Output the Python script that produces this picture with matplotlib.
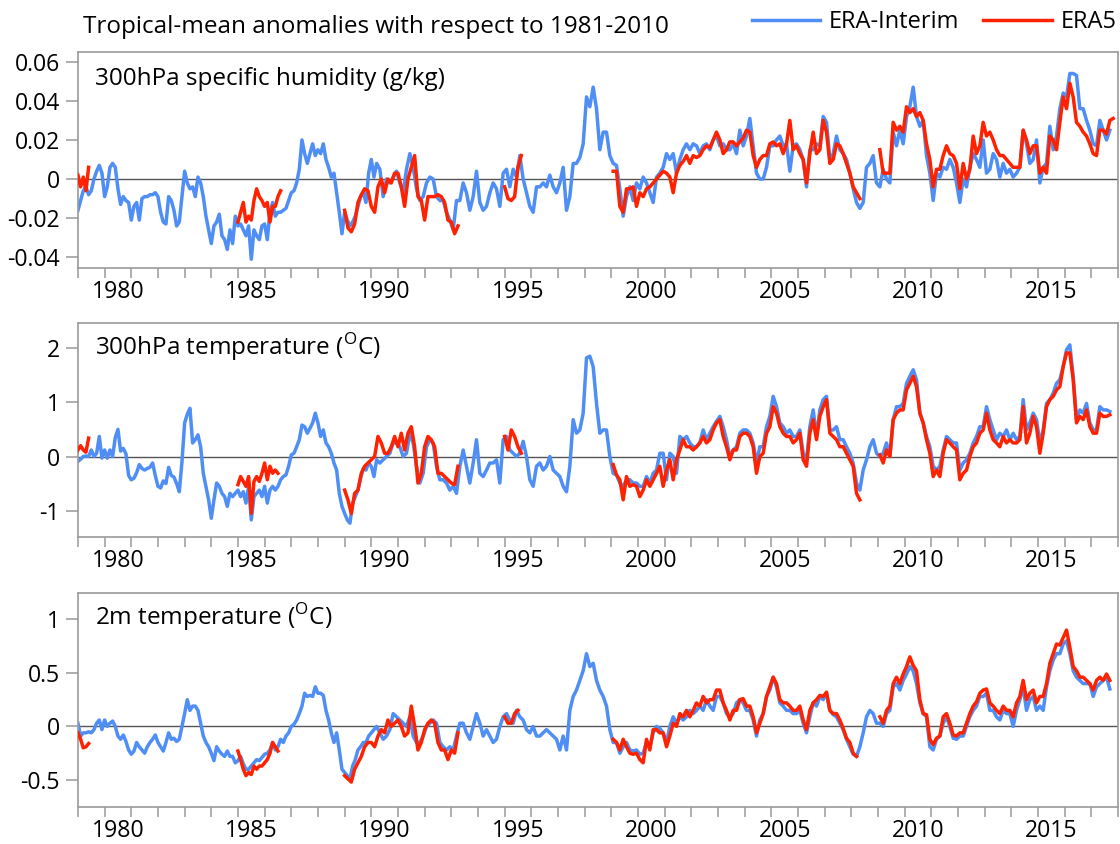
import matplotlib
matplotlib.use("Agg")
import matplotlib.pyplot as plt
from matplotlib.lines import Line2D
import numpy as np

plt.rcParams['font.family'] = ['Open Sans', 'DejaVu Sans']
plt.rcParams['mathtext.fontset'] = 'custom'
plt.rcParams['mathtext.rm'] = 'Open Sans'

erai_starts = [1979.0, 1990.32]
erai_steps = [0.1, 0.125]
era5_starts = [1979.0, 1985.0, 1989.0, 1995.0, 1999.07, 2009.07]
era5_steps = [0.1, 0.1, 0.125, 0.125, 0.125, 0.125]

# ---- 300hPa specific humidity (g/kg) ----
q_erai_a = [
    -0.016, -0.011, -0.006, -0.004, -0.008, -0.006, 0.000, 0.004, 0.007, 0.003,
    -0.009, -0.004, 0.006, 0.008, 0.006, -0.005, -0.013, -0.009, -0.011, -0.012,
    -0.021, -0.014, -0.012, -0.021, -0.010, -0.009, -0.009, -0.008, -0.008, -0.007,
    -0.009, -0.017, -0.022, -0.023, -0.009, -0.011, -0.016, -0.024, -0.022, -0.009,
    0.004, -0.002, -0.005, -0.004, -0.009, 0.001, -0.002, -0.009, -0.019, -0.026,
    -0.033, -0.024, -0.022, -0.018, -0.029, -0.031, -0.036, -0.026, -0.033, -0.019,
    -0.024, -0.023, -0.026, -0.029, -0.024, -0.041, -0.026, -0.029, -0.031, -0.024,
    -0.023, -0.031, -0.017, -0.012, -0.019, -0.017, -0.017, -0.016, -0.015, -0.011,
    -0.007, -0.006, -0.002, 0.005, 0.020, 0.013, 0.008, 0.013, 0.018, 0.012,
    0.015, 0.013, 0.018, 0.010, 0.006, 0.001, 0.003, -0.007, -0.017, -0.028,
    -0.017, -0.021, -0.024, -0.022, -0.019, -0.014, -0.009, -0.007, -0.012, 0.003,
    0.010, 0.001, 0.008]
q_erai_b = [
    0.005, -0.009, -0.000, -0.002, 0.001, 0.004, -0.002, -0.007, 0.005, 0.013,
    0.006, -0.005, -0.011, -0.009, -0.002, 0.001, -0.000, -0.009, -0.011, -0.011,
    -0.017, -0.021, -0.026, -0.011, -0.011, -0.002, -0.007, -0.016, -0.009, 0.004,
    -0.012, -0.016, -0.014, -0.007, -0.002, -0.005, -0.014, 0.003, 0.005, -0.004,
    0.005, 0.001, 0.012, -0.000, -0.007, -0.014, -0.017, -0.004, -0.004, -0.002,
    -0.004, 0.002, -0.004, -0.007, -0.002, 0.006, -0.016, -0.009, 0.008, 0.008,
    0.011, 0.018, 0.042, 0.037, 0.047, 0.036, 0.015, 0.024, 0.024, 0.012,
    0.008, 0.007, -0.005, -0.019, -0.009, -0.004, -0.011, -0.002, -0.005, 0.001,
    -0.002, -0.007, -0.012, 0.001, 0.003, 0.006, 0.013, 0.010, 0.013, 0.003,
    0.010, 0.015, 0.018, 0.015, 0.018, 0.017, 0.013, 0.017, 0.018, 0.015,
    0.020, 0.022, 0.017, 0.018, 0.015, 0.015, 0.018, 0.013, 0.025, 0.017,
    0.022, 0.031, 0.017, 0.003, -0.000, -0.000, 0.006, 0.017, 0.017, 0.020,
    0.022, 0.017, 0.018, 0.004, 0.017, 0.018, 0.015, 0.010, -0.004, 0.015,
    0.015, 0.018, 0.017, 0.032, 0.029, 0.010, 0.013, 0.022, 0.015, 0.013,
    0.010, 0.003, -0.005, -0.012, -0.015, -0.012, 0.006, 0.008, 0.012, -0.002,
    -0.004, 0.005, -0.000, -0.002, 0.024, 0.017, 0.025, 0.018, 0.032, 0.037,
    0.047, 0.032, 0.027, 0.030, 0.012, 0.003, -0.011, 0.003, 0.001, 0.006,
    0.005, 0.010, 0.006, -0.002, -0.012, -0.000, -0.004, 0.006, 0.013, 0.010,
    0.006, 0.020, 0.003, 0.005, 0.013, 0.010, 0.001, 0.008, 0.003, 0.005,
    0.001, 0.003, 0.006, 0.025, 0.018, 0.008, 0.010, 0.020, -0.002, 0.006,
    0.008, 0.027, 0.015, 0.022, 0.036, 0.044, 0.042, 0.054, 0.054, 0.053,
    0.036, 0.036, 0.030, 0.025, 0.018, 0.017, 0.030, 0.025, 0.020, 0.025]
q_era5_1 = [0.002, -0.004, 0.001, -0.006, 0.006]
q_era5_2 = [-0.022, -0.017, -0.012, -0.022, -0.019, -0.021, -0.011, -0.005, -0.009,
            -0.011, -0.014, -0.012, -0.022, -0.014, -0.014, -0.009, -0.006]
q_era5_3 = [-0.016, -0.025, -0.027, -0.023, -0.012, -0.008, -0.005, -0.006, -0.014,
            -0.017, -0.004, -0.000, -0.007, -0.000, -0.002, 0.003, 0.003, -0.004,
            -0.014, -0.000, 0.006, 0.012, -0.009, -0.011, -0.021, -0.009, -0.009,
            -0.009, -0.008, -0.009, -0.012, -0.021, -0.022, -0.028, -0.024]
q_era5_4 = [-0.004, -0.010, -0.011, -0.009, 0.006, 0.012]
q_era5_5 = [
    0.004, 0.004, -0.014, -0.017, -0.005, -0.005, -0.004, -0.014, -0.007, -0.009,
    -0.005, -0.004, -0.002, -0.000, 0.002, 0.004, 0.003, 0.001, -0.007, 0.003,
    0.007, 0.009, 0.012, 0.008, 0.012, 0.011, 0.012, 0.015, 0.017, 0.016,
    0.020, 0.024, 0.020, 0.013, 0.015, 0.019, 0.019, 0.017, 0.019, 0.021,
    0.025, 0.024, 0.012, 0.006, 0.010, 0.012, 0.012, 0.018, 0.019, 0.017,
    0.018, 0.013, 0.018, 0.030, 0.015, 0.017, 0.013, 0.010, -0.002, 0.013,
    0.024, 0.013, 0.015, 0.030, 0.024, 0.008, 0.010, 0.018, 0.017, 0.013,
    0.008, 0.003, -0.004, -0.007, -0.010]
q_era5_6 = [
    0.015, 0.003, 0.003, 0.003, 0.029, 0.025, 0.027, 0.024, 0.037, 0.034,
    0.036, 0.032, 0.034, 0.030, 0.018, 0.010, -0.004, 0.005, 0.005, 0.012,
    0.017, 0.013, 0.012, 0.008, -0.005, 0.008, -0.000, 0.005, 0.022, 0.013,
    0.017, 0.029, 0.022, 0.024, 0.020, 0.015, 0.012, 0.012, 0.010, 0.008,
    0.006, 0.006, 0.006, 0.025, 0.020, 0.013, 0.017, 0.017, 0.003, 0.006,
    0.003, 0.022, 0.020, 0.015, 0.029, 0.042, 0.036, 0.049, 0.042, 0.029,
    0.027, 0.024, 0.022, 0.018, 0.013, 0.012, 0.025, 0.025, 0.023, 0.030, 0.031]

# ---- 300hPa temperature (C) ----
t3_erai_a = [
    -0.09, -0.05, 0.0, 0.01, 0.0, 0.12, 0.0, 0.06, 0.37, -0.03,
    0.12, -0.03, 0.12, 0.0, 0.35, 0.50, 0.10, 0.15, 0.05, -0.35,
    -0.43, -0.40, -0.30, -0.15, -0.22, -0.25, -0.22, -0.20, -0.12, -0.35,
    -0.55, -0.58, -0.45, -0.50, -0.20, -0.35, -0.38, -0.50, -0.65, -0.10,
    0.62, 0.78, 0.89, 0.25, 0.31, 0.40, 0.18, -0.31, -0.55, -0.80,
    -1.14, -0.80, -0.49, -0.55, -0.68, -0.74, -0.92, -0.68, -0.74, -0.68,
    -0.62, -0.74, -0.65, -0.86, -0.55, -1.17, -0.74, -0.68, -0.62, -0.74,
    -0.55, -0.86, -0.62, -0.55, -0.62, -0.55, -0.43, -0.37, -0.34, -0.18,
    0.03, 0.06, 0.18, 0.31, 0.58, 0.55, 0.43, 0.52, 0.62, 0.80,
    0.62, 0.37, 0.49, 0.25, 0.18, 0.06, -0.12, -0.25, -0.68, -0.92,
    -1.05, -1.17, -1.23, -0.86, -0.74, -0.62, -0.40, -0.22, -0.25, -0.12,
    -0.18, -0.37, -0.06]
t3_erai_b = [
    -0.12, -0.06, 0.0, 0.06, 0.25, 0.25, 0.18, 0.0, 0.06, 0.43,
    0.25, -0.18, -0.49, -0.31, 0.18, 0.31, 0.25, -0.18, -0.43, -0.43,
    -0.49, -0.62, -0.55, -0.68, -0.18, 0.12, -0.18, -0.49, -0.12, 0.31,
    -0.31, -0.37, -0.25, -0.12, -0.12, -0.06, -0.49, 0.31, 0.37, 0.12,
    0.06, 0.0, 0.06, 0.28, 0.0, -0.43, -0.55, -0.18, -0.12, -0.25,
    -0.18, 0.0, -0.25, -0.31, -0.37, -0.55, -0.65, -0.18, 0.68, 0.43,
    0.49, 0.80, 1.82, 1.85, 1.66, 0.98, 0.43, 0.49, 0.49, 0.0,
    -0.31, -0.34, -0.49, -0.55, -0.43, -0.43, -0.49, -0.49, -0.55, -0.55,
    -0.37, -0.49, -0.31, -0.25, 0.06, 0.06, -0.43, 0.06, 0.0, -0.31,
    0.37, 0.31, 0.37, 0.25, 0.18, 0.18, 0.25, 0.49, 0.31, 0.43,
    0.55, 0.65, 0.74, 0.55, 0.31, 0.0, 0.12, 0.18, 0.43, 0.49,
    0.49, 0.43, 0.25, -0.12, 0.18, 0.18, 0.55, 0.74, 1.11, 0.92,
    0.62, 0.55, 0.43, 0.49, 0.37, 0.37, 0.49, 0.06, -0.06, 0.55,
    0.86, 0.37, 0.86, 1.05, 1.11, 0.49, 0.49, 0.55, 0.31, 0.31,
    0.18, 0.06, -0.12, -0.49, -0.62, -0.25, -0.06, 0.18, 0.31, 0.06,
    0.0, 0.06, 0.25, 0.0, 0.68, 0.92, 0.92, 0.98, 1.35, 1.48,
    1.60, 1.42, 0.80, 0.62, 0.37, 0.18, -0.18, -0.25, -0.18, 0.12,
    0.37, 0.31, 0.25, 0.25, -0.25, -0.12, -0.06, 0.06, 0.25, 0.37,
    0.55, 0.55, 0.92, 0.68, 0.49, 0.31, 0.43, 0.37, 0.49, 0.31,
    0.43, 0.31, 0.37, 1.05, 0.49, 0.62, 0.80, 0.68, 0.25, 0.49,
    0.98, 1.05, 1.17, 1.35, 1.42, 1.66, 1.97, 2.06, 1.48, 0.68,
    0.86, 0.80, 0.98, 0.62, 0.49, 0.49, 0.92, 0.86, 0.86, 0.83]
t3_era5_1 = [0.12, 0.20, 0.12, 0.08, 0.34]
t3_era5_2 = [-0.52, -0.37, -0.46, -0.55, -0.37, -1.05, -0.46, -0.37, -0.46, -0.31,
             -0.12, -0.43, -0.18, -0.31, -0.25, -0.31]
t3_era5_3 = [-0.62, -0.80, -1.05, -0.68, -0.62, -0.31, -0.18, -0.12, -0.06, 0.0,
             0.37, 0.25, 0.06, 0.06, 0.18, 0.37, 0.18, 0.43, 0.12, 0.43, 0.55,
             0.18, -0.49, -0.31, 0.18, 0.37, 0.31, 0.18, -0.31, -0.31, -0.37,
             -0.43, -0.49, -0.52, -0.18]
t3_era5_4 = [0.37, 0.12, 0.49, 0.37, 0.18, 0.06]
t3_era5_5 = [
    -0.15, -0.34, -0.43, -0.80, -0.37, -0.55, -0.52, -0.55, -0.74, -0.62,
    -0.43, -0.55, -0.43, -0.31, -0.18, -0.55, -0.25, -0.06, -0.43, -0.06,
    0.12, 0.31, 0.18, 0.18, 0.12, 0.18, 0.25, 0.37, 0.25, 0.31,
    0.49, 0.62, 0.68, 0.37, 0.18, -0.06, 0.12, 0.12, 0.37, 0.43,
    0.43, 0.37, 0.18, -0.31, 0.0, 0.06, 0.43, 0.55, 0.92, 0.80,
    0.55, 0.43, 0.37, 0.37, 0.25, 0.31, 0.43, -0.06, -0.18, 0.43,
    0.68, 0.31, 0.74, 0.92, 1.05, 0.43, 0.37, 0.31, 0.18, 0.18,
    0.06, -0.06, -0.18, -0.68, -0.80]
t3_era5_6 = [
    0.03, -0.12, 0.12, 0.0, 0.68, 0.80, 0.86, 0.86, 1.23, 1.35,
    1.48, 1.29, 0.80, 0.62, 0.31, 0.06, -0.37, -0.25, -0.37, 0.06,
    0.31, 0.25, 0.18, 0.12, -0.43, -0.31, -0.25, 0.0, 0.18, 0.25,
    0.43, 0.49, 0.80, 0.49, 0.31, 0.25, 0.18, 0.37, 0.25, 0.31,
    0.25, 0.25, 0.31, 0.92, 0.25, 0.43, 0.74, 0.55, 0.06, 0.43,
    0.92, 1.05, 1.11, 1.23, 1.29, 1.66, 1.91, 1.91, 1.42, 0.62,
    0.74, 0.68, 0.86, 0.55, 0.43, 0.43, 0.80, 0.74, 0.74, 0.77]

# ---- 2m temperature (C) ----
t2_erai_a = [
    0.03, -0.09, -0.06, -0.06, -0.05, -0.06, -0.03, 0.03, 0.06, -0.03,
    0.06, 0.0, 0.03, 0.05, 0.0, -0.09, -0.12, -0.08, -0.14, -0.22,
    -0.26, -0.23, -0.15, -0.19, -0.22, -0.25, -0.19, -0.15, -0.12, -0.08,
    -0.15, -0.19, -0.23, -0.15, -0.06, -0.12, -0.11, -0.14, -0.12, 0.0,
    0.12, 0.25, 0.15, 0.19, 0.19, 0.15, 0.03, -0.09, -0.15, -0.19,
    -0.25, -0.32, -0.19, -0.23, -0.26, -0.28, -0.23, -0.28, -0.28, -0.34,
    -0.32, -0.28, -0.35, -0.40, -0.40, -0.37, -0.34, -0.31, -0.32, -0.29,
    -0.26, -0.25, -0.22, -0.15, -0.22, -0.19, -0.12, -0.15, -0.09, -0.06,
    0.0, 0.02, 0.06, 0.12, 0.19, 0.31, 0.28, 0.29, 0.28, 0.37,
    0.31, 0.31, 0.29, 0.15, 0.06, -0.06, -0.15, -0.06, -0.22, -0.40,
    -0.43, -0.46, -0.49, -0.37, -0.31, -0.22, -0.19, -0.15, -0.15, -0.09,
    -0.06, -0.03, 0.0]
t2_erai_b = [
    -0.06, -0.12, -0.09, -0.03, 0.12, 0.09, 0.06, 0.03, 0.0, 0.09,
    -0.09, -0.15, -0.15, -0.09, 0.0, 0.03, 0.06, 0.03, -0.15, -0.19,
    -0.22, -0.19, -0.22, -0.09, 0.03, 0.03, -0.06, -0.12, 0.0, 0.12,
    0.03, -0.09, -0.03, -0.09, -0.15, -0.12, 0.0, 0.09, 0.12, 0.06,
    0.03, 0.15, 0.09, 0.06, -0.03, -0.06, 0.0, -0.09, -0.09, -0.06,
    -0.03, -0.06, -0.09, -0.12, -0.22, -0.09, -0.22, 0.15, 0.28, 0.34,
    0.43, 0.52, 0.68, 0.56, 0.59, 0.43, 0.34, 0.28, 0.19, -0.03,
    -0.15, -0.15, -0.25, -0.19, -0.15, -0.22, -0.23, -0.22, -0.26, -0.25,
    -0.15, -0.19, -0.06, 0.0, -0.02, -0.06, -0.15, 0.0, 0.09, 0.03,
    0.09, 0.06, 0.09, 0.15, 0.12, 0.15, 0.19, 0.15, 0.25, 0.19,
    0.15, 0.28, 0.28, 0.22, 0.12, 0.09, 0.12, 0.22, 0.25, 0.22,
    0.15, 0.15, 0.06, -0.09, 0.06, 0.12, 0.28, 0.34, 0.46, 0.37,
    0.22, 0.19, 0.15, 0.15, 0.12, 0.12, 0.15, 0.03, -0.06, 0.09,
    0.22, 0.19, 0.28, 0.25, 0.31, 0.15, 0.11, 0.09, 0.03, -0.03,
    -0.12, -0.19, -0.26, -0.28, -0.19, -0.06, 0.09, 0.15, 0.12, 0.03,
    0.03, 0.0, 0.12, 0.15, 0.37, 0.40, 0.34, 0.43, 0.49, 0.56,
    0.52, 0.40, 0.22, 0.12, 0.09, -0.19, -0.22, -0.12, -0.09, 0.03,
    0.09, 0.0, -0.11, -0.12, -0.09, -0.09, 0.0, 0.09, 0.15, 0.19,
    0.28, 0.28, 0.31, 0.15, 0.15, 0.09, 0.06, 0.15, 0.12, 0.12,
    0.0, 0.15, 0.25, 0.37, 0.15, 0.25, 0.28, 0.15, 0.19, 0.15,
    0.37, 0.52, 0.62, 0.68, 0.68, 0.77, 0.80, 0.68, 0.52, 0.46,
    0.43, 0.40, 0.40, 0.40, 0.28, 0.37, 0.40, 0.43, 0.46, 0.35]
t2_era5_1 = [-0.06, -0.12, -0.20, -0.19, -0.16]
t2_era5_2 = [-0.23, -0.31, -0.40, -0.46, -0.43, -0.45, -0.37, -0.40, -0.37, -0.37,
             -0.34, -0.31, -0.25, -0.15, -0.19, -0.23]
t2_era5_3 = [-0.46, -0.49, -0.52, -0.40, -0.34, -0.28, -0.19, -0.15, -0.15, -0.19,
             -0.09, -0.03, -0.06, 0.06, 0.0, 0.03, 0.06, 0.0, -0.09, -0.06, 0.19,
             0.0, -0.22, -0.15, -0.03, 0.03, 0.06, 0.03, -0.15, -0.22, -0.22,
             -0.31, -0.22, -0.25, -0.06]
t2_era5_4 = [0.09, 0.03, 0.03, 0.12, 0.15]
t2_era5_5 = [
    -0.12, -0.15, -0.22, -0.12, -0.19, -0.25, -0.26, -0.25, -0.31, -0.34,
    -0.12, -0.22, -0.03, -0.03, -0.06, -0.06, -0.19, -0.09, 0.03, 0.0,
    0.12, 0.09, 0.15, 0.09, 0.15, 0.22, 0.19, 0.28, 0.22, 0.25,
    0.25, 0.34, 0.34, 0.22, 0.15, 0.06, 0.15, 0.15, 0.25, 0.26,
    0.19, 0.19, 0.09, -0.06, 0.03, 0.12, 0.28, 0.37, 0.46, 0.40,
    0.25, 0.22, 0.22, 0.19, 0.15, 0.15, 0.19, 0.06, -0.03, 0.15,
    0.22, 0.25, 0.29, 0.28, 0.32, 0.15, 0.12, 0.12, 0.06, -0.02,
    -0.11, -0.15, -0.25, -0.28]
t2_era5_6 = [
    0.09, 0.03, 0.15, 0.19, 0.40, 0.46, 0.40, 0.49, 0.56, 0.65,
    0.57, 0.52, 0.25, 0.12, 0.11, -0.12, -0.17, -0.11, -0.09, 0.09,
    0.12, 0.03, -0.08, -0.09, -0.06, -0.06, 0.03, 0.12, 0.19, 0.23,
    0.31, 0.34, 0.35, 0.22, 0.19, 0.15, 0.12, 0.19, 0.15, 0.15,
    0.09, 0.22, 0.28, 0.43, 0.25, 0.31, 0.34, 0.22, 0.28, 0.28,
    0.40, 0.59, 0.68, 0.77, 0.76, 0.83, 0.90, 0.74, 0.56, 0.52,
    0.46, 0.46, 0.43, 0.40, 0.34, 0.43, 0.46, 0.43, 0.49, 0.43]

titles = ['300hPa specific humidity (g/kg)',
          r'300hPa temperature ($^{\mathrm{O}}$C)',
          r'2m temperature ($^{\mathrm{O}}$C)']
ylims = [(-0.0455, 0.065), (-1.48, 2.47), (-0.75, 1.25)]
yticks = [[-0.04, -0.02, 0, 0.02, 0.04, 0.06], [-1, 0, 1, 2], [-0.5, 0, 0.5, 1]]
yticklabels = [['-0.04', '-0.02', '0', '0.02', '0.04', '0.06'],
               ['-1', '0', '1', '2'], ['-0.5', '0', '0.5', '1']]
year_labels = ['1980', '1985', '1990', '1995', '2000', '2005', '2010', '2015']

panels = [
    (q_erai_a, q_erai_b, [q_era5_1, q_era5_2, q_era5_3, q_era5_4, q_era5_5, q_era5_6]),
    (t3_erai_a, t3_erai_b, [t3_era5_1, t3_era5_2, t3_era5_3, t3_era5_4, t3_era5_5, t3_era5_6]),
    (t2_erai_a, t2_erai_b, [t2_era5_1, t2_era5_2, t2_era5_3, t2_era5_4, t2_era5_5, t2_era5_6]),
]

BLUE = '#4f8ef5'
RED = '#ff2200'
GREY = '#9a9a9a'


def times(start, step, vals):
    return start + step * np.arange(len(vals))


fig = plt.figure(figsize=(11.2, 8.44), dpi=100)
bottoms = [0.6825, 0.3641, 0.0442]
heights = [0.2559, 0.2536, 0.2536]

for i, (ea, eb, e5) in enumerate(panels):
    ax = fig.add_axes([0.0696, bottoms[i], 0.9286, heights[i]])
    t_blue = np.concatenate([times(erai_starts[0], erai_steps[0], ea),
                             times(erai_starts[1], erai_steps[1], eb)])
    v_blue = np.concatenate([ea, eb])
    ax.axhline(0, color='#555555', lw=1.0, zorder=1)
    ax.plot(t_blue, v_blue, color=BLUE, lw=2.5, zorder=2, solid_joinstyle='round')
    for s, st, seg in zip(era5_starts, era5_steps, e5):
        ax.plot(times(s, st, seg), seg, color=RED, lw=2.5, zorder=3,
                solid_joinstyle='round')

    ax.set_xlim(1979, 2018)
    ax.set_ylim(*ylims[i])
    ax.set_yticks(yticks[i])
    ax.set_yticklabels(yticklabels[i])
    ax.set_xticks(np.arange(1979, 2019))
    ax.set_xticklabels([])
    ax.set_xticks([int(y) + 0.5 for y in year_labels], minor=True)
    ax.set_xticklabels(year_labels, minor=True)
    ax.tick_params(axis='x', which='major', direction='out', length=7,
                   width=1.1, color=GREY)
    ax.tick_params(axis='x', which='minor', length=0, pad=9, labelsize=16.6)
    ax.tick_params(axis='y', direction='out', length=9, width=1.1, color=GREY,
                   pad=4, labelsize=16.6)
    for sp in ax.spines.values():
        sp.set_color(GREY)
        sp.set_linewidth(1.2)
    ax.text(0.016, 0.848, titles[i], transform=ax.transAxes, ha='left',
            va='baseline', fontsize=17.5)

fig.text(0.0738, 0.961, 'Tropical-mean anomalies with respect to 1981-2010',
         ha='left', va='baseline', fontsize=17.5)
handles = [Line2D([], [], color=BLUE, lw=2.5), Line2D([], [], color=RED, lw=2.5)]
fig.legend(handles, ['ERA-Interim', 'ERA5'], loc='center right',
           bbox_to_anchor=(0.997, 0.974), ncol=2, frameon=False, fontsize=17,
           handlelength=2.9, handletextpad=0.38, columnspacing=1.0,
           borderaxespad=0, borderpad=0)

fig.savefig('out.png', dpi=100)
